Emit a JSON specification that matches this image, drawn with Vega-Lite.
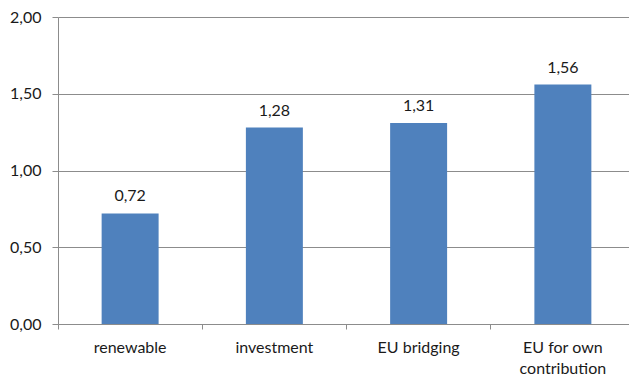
{
  "$schema": "https://vega.github.io/schema/vega-lite/v6.json",
  "autosize": {"type": "none"},
  "padding": {"left": 58, "top": 17, "right": 0, "bottom": 55},
  "width": 577,
  "height": 307,
  "background": "white",
  "config": {
    "locale": {"number": {"decimal": ",", "thousands": ".", "grouping": [3], "currency": ["", " €"]}},
    "view": {"stroke": null},
    "font": "Lato"
  },
  "data": {
    "values": [
      {"category": "renewable", "value": 0.72},
      {"category": "investment", "value": 1.28},
      {"category": "EU bridging", "value": 1.31},
      {"category": "EU for own|contribution", "value": 1.56}
    ]
  },
  "encoding": {
    "x": {
      "field": "category", "type": "nominal", "sort": null,
      "scale": {"paddingInner": 0, "paddingOuter": 0},
      "axis": {
        "title": null, "labelAngle": 0, "bandPosition": 0,
        "labelExpr": "split(datum.label, '|')",
        "domainColor": "#8c8c8c", "tickColor": "#8c8c8c", "tickSize": 5,
        "labelPadding": 10, "labelFontSize": 16, "labelColor": "#1a1a1a",
        "labelFont": "Lato", "labelBaseline": "top", "labelLineHeight": 21, "grid": false
      }
    },
    "y": {
      "field": "value", "type": "quantitative",
      "scale": {"domain": [0, 2]},
      "axis": {
        "title": null, "values": [0, 0.5, 1, 1.5, 2], "format": ".2f",
        "gridColor": "#8c8c8c", "domainColor": "#8c8c8c", "tickColor": "#8c8c8c",
        "tickSize": 6, "labelPadding": 11, "labelFontSize": 16, "labelColor": "#1a1a1a",
        "labelFont": "Lato"
      }
    }
  },
  "layer": [
    {
      "mark": {"type": "bar", "color": "#4F81BD", "width": {"band": 0.395}}
    },
    {
      "mark": {"type": "text", "baseline": "bottom", "dy": -9, "fontSize": 16, "color": "#1a1a1a", "font": "Lato"},
      "encoding": {"text": {"field": "value", "type": "quantitative", "format": ".2f"}}
    }
  ]
}
